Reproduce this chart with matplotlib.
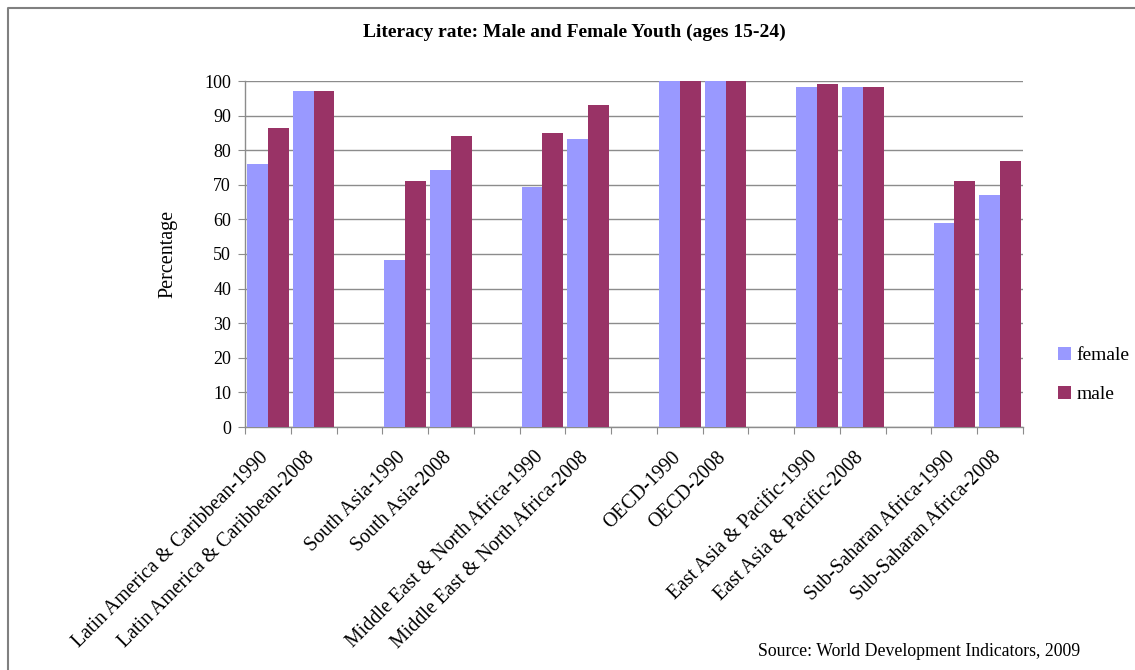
import matplotlib.pyplot as plt
import matplotlib.transforms as mtransforms
import numpy as np

plt.rcParams['font.family'] = ['Liberation Serif', 'DejaVu Serif']

# regions / years, blank slots separate the groups
categories = ['Latin America & Caribbean-1990', 'Latin America & Caribbean-2008', '',
              'South Asia-1990', 'South Asia-2008', '',
              'Middle East & North Africa-1990', 'Middle East & North Africa-2008', '',
              'OECD-1990', 'OECD-2008', '',
              'East Asia & Pacific-1990', 'East Asia & Pacific-2008', '',
              'Sub-Saharan Africa-1990', 'Sub-Saharan Africa-2008']
female = [76, 97, np.nan, 48.3, 74.3, np.nan, 69.4, 83.2, np.nan,
          100, 100, np.nan, 98.3, 98.3, np.nan, 59, 67]
male = [86.4, 97, np.nan, 71.1, 84.1, np.nan, 85, 93.1, np.nan,
        100, 100, np.nan, 99.1, 98.3, np.nan, 71.1, 76.9]

fig = plt.figure(figsize=(11.35, 6.70), dpi=100)
ax = fig.add_axes([245 / 1135, 1 - 427 / 670, 778 / 1135, 346 / 670])

x = np.arange(len(categories))
w = 0.455
ax.bar(x - w / 2, female, width=w, color='#9999FF', label='female', zorder=3)
ax.bar(x + w / 2, male, width=w, color='#993366', label='male', zorder=3)

ax.set_xlim(-0.5, len(categories) - 0.5)
ax.set_ylim(0, 100)
ax.set_yticks(range(0, 101, 10))
ax.yaxis.grid(True, color='#8c8c8c', linewidth=1.0, zorder=0)
ax.set_axisbelow(True)

for s in ['top', 'right']:
    ax.spines[s].set_visible(False)
for s in ['left', 'bottom']:
    ax.spines[s].set_color('#8c8c8c')
    ax.spines[s].set_linewidth(1.0)

# ticks at category boundaries, labels at centres
ax.set_xticks(np.arange(-0.5, len(categories)), minor=False)
ax.set_xticklabels([])
ax.set_xticks(x, minor=True)
ax.set_xticklabels(categories, minor=True, rotation=45, ha='right',
                   rotation_mode='anchor', fontsize=14.3)
ax.tick_params(axis='x', which='major', length=5, color='#8c8c8c', direction='out')
ax.tick_params(axis='x', which='minor', length=0, pad=15)
ax.tick_params(axis='y', length=5, color='#8c8c8c', labelsize=13, pad=5)

# nudge the slanted labels a little to the left
shift = mtransforms.ScaledTranslation(-9 / 100, 0, fig.dpi_scale_trans)
for lab in ax.get_xticklabels(minor=True):
    lab.set_transform(lab.get_transform() + shift)

ax.set_ylabel('Percentage', fontsize=14.5, labelpad=19)

fig.text(0.5057, 1 - 32 / 670, 'Literacy rate: Male and Female Youth (ages 15-24)',
         ha='center', va='center', fontsize=14, fontweight='bold')
fig.text(758 / 1135, 1 - 651 / 670, 'Source: World Development Indicators, 2009',
         ha='left', va='center', fontsize=12.8)

ax.legend(loc='center left', bbox_to_anchor=(1.045, 0.15), frameon=False,
          fontsize=14, handlelength=0.67, handleheight=0.67, handletextpad=0.3,
          labelspacing=1.1, borderaxespad=0, borderpad=0)

# outer chart frame (top and left visible)
fig.add_artist(plt.Line2D([8 / 1135, 8 / 1135, 1.0], [0, 1 - 8 / 670, 1 - 8 / 670],
                          transform=fig.transFigure, color='#808080', linewidth=1.5))

fig.savefig('out.png', dpi=100)
